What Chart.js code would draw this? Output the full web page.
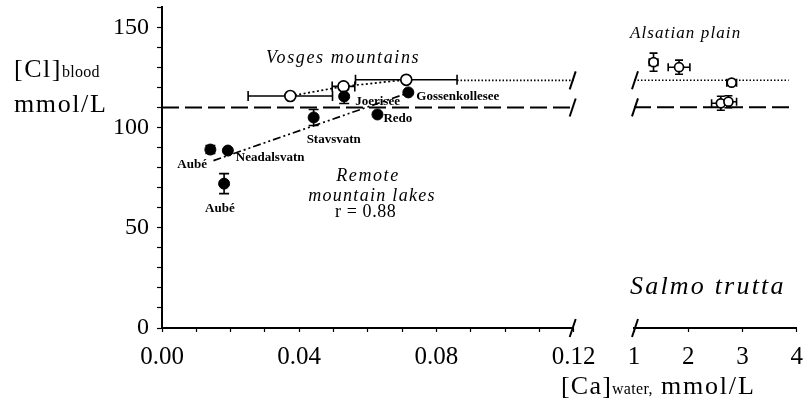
<!DOCTYPE html>
<html>
<head>
<meta charset="utf-8">
<script src="https://cdn.jsdelivr.net/npm/chart.js@4.4.1/dist/chart.umd.min.js"></script>
<style>
  body { margin: 0; background: #fff; }
  #wrap { position: relative; width: 803px; height: 412px; }
  canvas { position: absolute; left: 0; top: 0; }
</style>
</head>
<body>
<div id="wrap">
  <canvas id="lowCa" width="803" height="412"></canvas>
  <canvas id="highCa" width="803" height="412"></canvas>
</div>
<script>
// remote mountain lakes (filled circles)
const lakeNames = ["Aubé", "Aubé", "Neadalsvatn", "Stavsvatn", "Joerisee", "Redo", "Gossenkollesee"];
const lakeCa = [0.0141, 0.0181, 0.0192, 0.0442, 0.0531, 0.0628, 0.0718];
const lakeCl = [89, 72, 88.5, 105, 115.5, 106.5, 117.5];
const lakeClErr = [2, 5, 0, 4, 3.5, 0, 0];

// Vosges mountains (open circles)
const vosgesCa = [0.0374, 0.0529, 0.0712];
const vosgesCl = [115.7, 120.5, 123.8];
const vosgesCaErr = [0.0123, 0.0033, 0.0148];
const vosgesClErr = [0, 1.5, 0];

// Alsatian plain (open circles, high calcium)
const plainCa = [1.36, 1.83, 2.8, 2.6, 2.74];
const plainCl = [132.5, 130, 122.3, 112, 112.8];
const plainCaErr = [0.08, 0.2, 0.09, 0.17, 0.15];
const plainClErr = [4.5, 3.5, 1.2, 3.5, 3];

// regression through the lakes, r = 0.88
const fitCa = [0.015, 0.072];
const fitCl = [83.5, 117.4];

// reference levels
const refDashed = 110;
const refDotted = 123.5;

const yTicks = [0, 50, 100, 150];
const lowTicks = [0, 0.04, 0.08, 0.12];
const highTicks = [1, 2, 3, 4];

const serif = "'Liberation Serif', 'Times New Roman', serif";
const BLACK = "#000";

const pts = (xs, ys) => xs.map((x, i) => ({ x, y: ys[i] }));

function errorBars(sets) {
  return {
    id: "errorBars",
    beforeDatasetsDraw(chart) {
      const { ctx, scales: { x, y } } = chart;
      ctx.save();
      ctx.strokeStyle = BLACK;
      ctx.lineWidth = 1.6;
      for (const s of sets) {
        s.xs.forEach((v, i) => {
          const px = x.getPixelForValue(v);
          const py = y.getPixelForValue(s.ys[i]);
          const ex = s.xErr ? s.xErr[i] : 0;
          const ey = s.yErr ? s.yErr[i] : 0;
          ctx.beginPath();
          if (ex) {
            const a = x.getPixelForValue(v - ex), b = x.getPixelForValue(v + ex);
            ctx.moveTo(a, py); ctx.lineTo(b, py);
            ctx.moveTo(a, py - s.cap); ctx.lineTo(a, py + s.cap);
            ctx.moveTo(b, py - s.cap); ctx.lineTo(b, py + s.cap);
          }
          if (ey) {
            const a = y.getPixelForValue(s.ys[i] - ey), b = y.getPixelForValue(s.ys[i] + ey);
            ctx.moveTo(px, a); ctx.lineTo(px, b);
            ctx.moveTo(px - s.cap, a); ctx.lineTo(px + s.cap, a);
            ctx.moveTo(px - s.cap, b); ctx.lineTo(px + s.cap, b);
          }
          ctx.stroke();
        });
      }
      ctx.restore();
    }
  };
}

// text at data points (with pixel offsets) or at fixed canvas positions
function texts(items) {
  return {
    id: "texts",
    afterDraw(chart) {
      const { ctx, scales: { x, y } } = chart;
      ctx.save();
      ctx.fillStyle = BLACK;
      ctx.textBaseline = "middle";
      for (const t of items) {
        let px = t.px, py = t.py;
        if (t.x !== undefined) {
          px = x.getPixelForValue(t.x) + (t.dx || 0);
          py = y.getPixelForValue(t.y) + (t.dy || 0);
        }
        const parts = t.parts || [{ text: t.text, font: t.font, spacing: t.spacing }];
        ctx.textAlign = "left";
        let width = 0;
        for (const p of parts) {
          ctx.font = p.font;
          ctx.letterSpacing = (p.spacing || 0) + "px";
          width += ctx.measureText(p.text).width;
        }
        let cx = t.align === "center" ? px - width / 2 : px;
        for (const p of parts) {
          ctx.font = p.font;
          ctx.letterSpacing = (p.spacing || 0) + "px";
          ctx.fillText(p.text, cx, py + (p.shift || 0));
          cx += ctx.measureText(p.text).width;
        }
      }
      ctx.restore();
    }
  };
}

// short slashes marking the broken axis and broken lines
function breakMarks(side, levels) {
  return {
    id: "breakMarks",
    afterDraw(chart) {
      const { ctx, chartArea, scales: { y } } = chart;
      const bx = side === "right" ? chartArea.right - 1 : chartArea.left + 1;
      ctx.save();
      ctx.strokeStyle = BLACK;
      ctx.lineWidth = 2;
      for (const v of levels) {
        const by = y.getPixelForValue(v);
        ctx.beginPath();
        ctx.moveTo(bx - 3, by + 9);
        ctx.lineTo(bx + 3, by - 9);
        ctx.stroke();
      }
      ctx.restore();
    }
  };
}

const pointLabelFont = "bold 13px " + serif;
const groupFont = "italic 18px " + serif;

const lowCaChart = new Chart(document.getElementById("lowCa"), {
  type: "scatter",
  data: {
    datasets: [
      {
        data: pts(lakeCa, lakeCl),
        pointRadius: 5.5,
        pointBackgroundColor: BLACK,
        pointBorderColor: BLACK,
        pointBorderWidth: 1
      },
      {
        data: pts(vosgesCa, vosgesCl),
        showLine: true,
        borderColor: BLACK,
        borderWidth: 1.7,
        borderDash: [2, 2.5],
        pointRadius: 5.5,
        pointBackgroundColor: "#fff",
        pointBorderColor: BLACK,
        pointBorderWidth: 1.7
      },
      {
        data: pts(fitCa, fitCl),
        showLine: true,
        borderColor: BLACK,
        borderWidth: 1.7,
        borderDash: [8, 3, 2, 3, 2, 3],
        pointRadius: 0
      },
      {
        data: pts([0, 0.12], [refDashed, refDashed]),
        showLine: true,
        borderColor: BLACK,
        borderWidth: 2,
        borderDash: [17, 6],
        pointRadius: 0
      },
      {
        data: pts([vosgesCa[2] + vosgesCaErr[2], 0.12], [refDotted, refDotted]),
        showLine: true,
        borderColor: BLACK,
        borderWidth: 1.6,
        borderDash: [1.5, 2],
        pointRadius: 0
      }
    ]
  },
  options: {
    responsive: false,
    animation: false,
    events: [],
    layout: { padding: { top: 7, right: 803 - 573.7, bottom: 0, left: 0 } },
    plugins: { legend: { display: false }, tooltip: { enabled: false } },
    scales: {
      x: {
        type: "linear",
        min: 0,
        max: 0.12,
        afterFit: (s) => { s.height = 84; s.paddingLeft = 0; s.paddingRight = 0; },
        afterBuildTicks: (s) => {
          s.ticks = Array.from({ length: 13 }, (_, i) => ({ value: i / 100 }));
        },
        border: { display: true, color: BLACK, width: 2 },
        grid: { drawOnChartArea: false, drawTicks: true, tickLength: 4, tickColor: BLACK, tickWidth: 1.2 },
        ticks: {
          autoSkip: false,
          maxRotation: 0,
          padding: 10,
          color: BLACK,
          font: { family: serif, size: 25 },
          callback: (v) => {
            const hit = lowTicks.find((t) => Math.abs(t - v) < 1e-6);
            return hit === undefined ? "" : hit.toFixed(2);
          }
        }
      },
      y: {
        min: 0,
        max: 160,
        afterFit: (s) => { s.width = 162; s.paddingTop = 0; s.paddingBottom = 0; },
        afterBuildTicks: (s) => {
          s.ticks = Array.from({ length: 17 }, (_, i) => ({ value: i * 10 }));
        },
        border: { display: true, color: BLACK, width: 2 },
        grid: { drawOnChartArea: false, drawTicks: true, tickLength: 5, tickColor: BLACK, tickWidth: 1.2 },
        ticks: {
          autoSkip: false,
          padding: 8,
          color: BLACK,
          font: { family: serif, size: 24 },
          callback: (v) => (yTicks.includes(v) ? String(v) : "")
        }
      }
    }
  },
  plugins: [
    errorBars([
      { xs: lakeCa, ys: lakeCl, yErr: lakeClErr, cap: 5 },
      { xs: vosgesCa, ys: vosgesCl, xErr: vosgesCaErr, yErr: vosgesClErr, cap: 5 }
    ]),
    texts([
      { x: lakeCa[0], y: lakeCl[0], dx: -33, dy: 15, text: lakeNames[0], font: pointLabelFont },
      { x: lakeCa[1], y: lakeCl[1], dx: -19, dy: 25, text: lakeNames[1], font: pointLabelFont },
      { x: lakeCa[2], y: lakeCl[2], dx: 8, dy: 7, text: lakeNames[2], font: pointLabelFont },
      { x: lakeCa[3], y: lakeCl[3], dx: -7, dy: 22, text: lakeNames[3], font: pointLabelFont },
      { x: lakeCa[4], y: lakeCl[4], dx: 11, dy: 5, text: lakeNames[4], font: pointLabelFont },
      { x: lakeCa[5], y: lakeCl[5], dx: 6, dy: 4, text: lakeNames[5], font: pointLabelFont },
      { x: lakeCa[6], y: lakeCl[6], dx: 8, dy: 4, text: lakeNames[6], font: pointLabelFont },
      { px: 266, py: 58, text: "Vosges mountains", font: groupFont, spacing: 1.6 },
      { px: 368, py: 176, align: "center", text: "Remote", font: groupFont, spacing: 1.6 },
      { px: 372, py: 196, align: "center", text: "mountain lakes", font: groupFont, spacing: 1.3 },
      { px: 335, py: 212, text: "r = 0.88", font: "18px " + serif, spacing: 0.6 },
      {
        px: 14, py: 70,
        parts: [
          { text: "[Cl]", font: "26px " + serif, spacing: 1.5 },
          { text: "blood", font: "16px " + serif, spacing: 0.3, shift: 3 }
        ]
      },
      { px: 14, py: 105, text: "mmol/L", font: "26px " + serif, spacing: 1.6 }
    ]),
    breakMarks("right", [0, refDashed, refDotted])
  ]
});

const highCaChart = new Chart(document.getElementById("highCa"), {
  type: "scatter",
  data: {
    datasets: [
      {
        data: pts(plainCa, plainCl),
        pointRadius: 4.5,
        pointBackgroundColor: "#fff",
        pointBorderColor: BLACK,
        pointBorderWidth: 1.7
      },
      {
        data: pts([1, 3.85], [refDotted, refDotted]),
        showLine: true,
        borderColor: BLACK,
        borderWidth: 1.6,
        borderDash: [1.5, 2],
        pointRadius: 0
      },
      {
        data: pts([1, 3.88], [refDashed, refDashed]),
        showLine: true,
        borderColor: BLACK,
        borderWidth: 2,
        borderDash: [17, 6],
        pointRadius: 0
      }
    ]
  },
  options: {
    responsive: false,
    animation: false,
    events: [],
    layout: { padding: { top: 7, right: 4, bottom: 0, left: 634 } },
    plugins: { legend: { display: false }, tooltip: { enabled: false } },
    scales: {
      x: {
        type: "linear",
        min: 1,
        max: 4,
        afterFit: (s) => { s.height = 84; s.paddingLeft = 0; s.paddingRight = 0; },
        afterBuildTicks: (s) => { s.ticks = highTicks.map((v) => ({ value: v })); },
        border: { display: true, color: BLACK, width: 2 },
        grid: { drawOnChartArea: false, drawTicks: true, tickLength: 4, tickColor: BLACK, tickWidth: 1.2 },
        ticks: {
          autoSkip: false,
          maxRotation: 0,
          padding: 10,
          color: BLACK,
          font: { family: serif, size: 25 },
          callback: (v) => String(v)
        }
      },
      y: { display: false, min: 0, max: 160 }
    }
  },
  plugins: [
    errorBars([
      { xs: plainCa, ys: plainCl, xErr: plainCaErr, yErr: plainClErr, cap: 4 }
    ]),
    texts([
      { px: 630, py: 34, text: "Alsatian plain", font: "italic 17px " + serif, spacing: 1.1 },
      { px: 630, py: 287, text: "Salmo trutta", font: "italic 26px " + serif, spacing: 2.2 },
      {
        px: 561, py: 387,
        parts: [
          { text: "[Ca]", font: "26px " + serif, spacing: 1.2 },
          { text: "water,", font: "16px " + serif, spacing: 0.3, shift: 3 },
          { text: " mmol/L", font: "26px " + serif, spacing: 1.8 }
        ]
      }
    ]),
    breakMarks("left", [0, refDashed, refDotted])
  ]
});
</script>
</body>
</html>
